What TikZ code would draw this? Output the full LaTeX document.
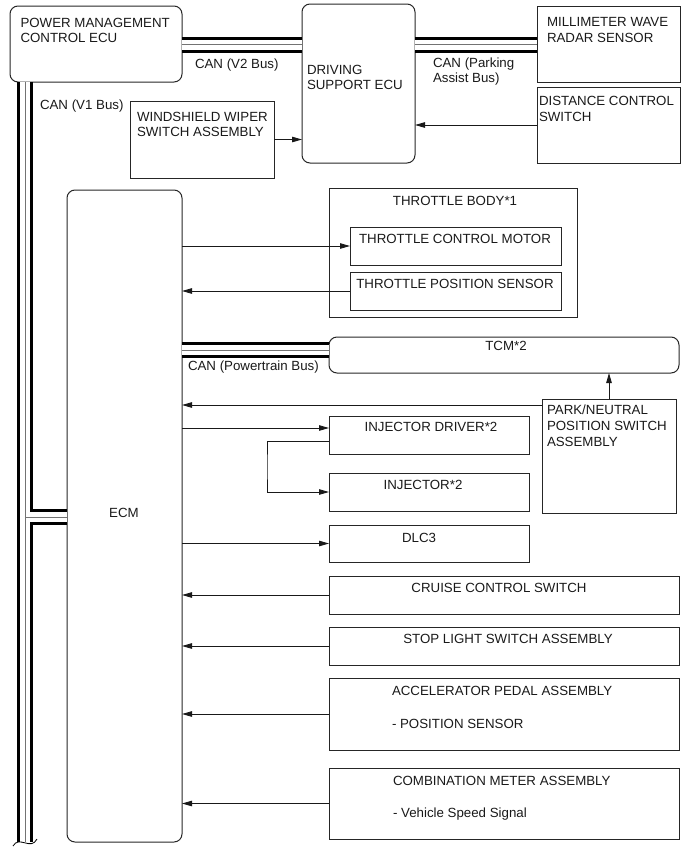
\documentclass[tikz,border=0pt]{standalone}
\usepackage{fontspec}
\setmainfont{Liberation Sans}
\usetikzlibrary{arrows.meta,calc}
\begin{document}
\begin{tikzpicture}[x=1pt,y=-1pt,
  every node/.style={inner sep=0pt,outer sep=0pt},
  box/.style={draw=black!85,line width=1pt,anchor=north west},
  rbox/.style={box,rounded corners=8pt},
  txt/.style={font=\fontsize{13.3}{16}\selectfont,text=black!90},
  tl/.style={txt,anchor=base west},
  tc/.style={txt,anchor=base},
  arr/.style={draw=black!90,line width=0.9pt,-{Triangle[length=10pt,width=5.5pt]}},
  bus/.style={draw=black,line width=3pt,double=white,double distance=10pt},
  busmid/.style={draw=black!55,line width=1pt}]
\useasboundingbox (0,0) rectangle (690,854);
% boxes
\node[rbox,minimum width=172,minimum height=76] (pmc) at (10,6) {};
\node[rbox,minimum width=113,minimum height=159] (dse) at (302,4) {};
\node[box,minimum width=143,minimum height=76] (mmw) at (537,6) {};
\node[box,minimum width=143,minimum height=76] (dcs) at (537,87) {};
\node[box,minimum width=144,minimum height=77] (wip) at (130,101) {};
\node[rbox,minimum width=115,minimum height=652] (ecm) at (67,190) {};
\node[box,minimum width=248,minimum height=129] (tb) at (329,188) {};
\node[box,minimum width=211,minimum height=38] (tcmot) at (350,227) {};
\node[box,minimum width=211,minimum height=38] (tps) at (350,272) {};
\node[rbox,minimum width=350,minimum height=36] (tcm) at (329,337) {};
\node[box,minimum width=134,minimum height=114] (pnp) at (542,399) {};
\node[box,minimum width=200,minimum height=38] (injd) at (329,416) {};
\node[box,minimum width=200,minimum height=38] (inj) at (329,473) {};
\node[box,minimum width=200,minimum height=37] (dlc) at (329,525) {};
\node[box,minimum width=350,minimum height=38] (ccs) at (329,576) {};
\node[box,minimum width=350,minimum height=38] (sls) at (329,627) {};
\node[box,minimum width=350,minimum height=72] (apa) at (329,678) {};
\node[box,minimum width=350,minimum height=71] (cma) at (329,768) {};
% texts
\node[tl] (t1) at (20.5,27) {POWER MANAGEMENT};
\node[tl] (t2) at (20.5,42) {CONTROL ECU};
\node[tl] (t3) at (195,68) {CAN (V2 Bus)};
\node[tl] (t4) at (40,109) {CAN (V1 Bus)};
\node[tl] (t5) at (137,121) {WINDSHIELD WIPER};
\node[tl] (t6) at (137,136) {SWITCH ASSEMBLY};
\node[tl] (t7) at (307,74) {DRIVING};
\node[tl] (t8) at (307,89) {SUPPORT ECU};
\node[tl] (t9) at (433,67) {CAN (Parking};
\node[tl] (t10) at (433,82) {Assist Bus)};
\node[tl] (t11) at (547,26) {MILLIMETER WAVE};
\node[tl] (t12) at (547,42) {RADAR SENSOR};
\node[tl] (t13) at (539,105) {DISTANCE CONTROL};
\node[tl] (t14) at (539,121) {SWITCH};
\node[tc] (t15) at (455,205) {THROTTLE BODY*1};
\node[tc] (t16) at (455,243) {THROTTLE CONTROL MOTOR};
\node[tc] (t17) at (455,288) {THROTTLE POSITION SENSOR};
\node[tl] (t18) at (188,370) {CAN (Powertrain Bus)};
\node[tc] (t19) at (506,350) {TCM*2};
\node[tl] (t20) at (547,414) {PARK/NEUTRAL};
\node[tl] (t21) at (547,430) {POSITION SWITCH};
\node[tl] (t22) at (547,446) {ASSEMBLY};
\node[tc] (t23) at (431,431) {INJECTOR DRIVER*2};
\node[tc] (t24) at (423,489) {INJECTOR*2};
\node[tc] (t25) at (419,542) {DLC3};
\node[tc] (t26) at (499,592) {CRUISE CONTROL SWITCH};
\node[tc] (t27) at (508,643) {STOP LIGHT SWITCH ASSEMBLY};
\node[tl] (t28) at (392,695) {ACCELERATOR PEDAL ASSEMBLY};
\node[tl] (t29) at (392,728) {- POSITION SENSOR};
\node[tl] (t30) at (393,785) {COMBINATION METER ASSEMBLY};
\node[tl] (t31) at (393,817) {- Vehicle Speed Signal};
\node[tc] (t32) at (124,517) {ECM};
% buses
\coordinate (b1) at (25,82);
\coordinate (b2) at (25,842);
\coordinate (bj) at (25,517);
\draw[bus] (b1) -- (b2) (bj) -- (ecm.west |- bj);
\draw[busmid] (b1) -- (b2) (bj) -- (ecm.west |- bj);
\draw[black,line width=0.8pt] (13,846) .. controls (19,835) and (31,851) .. (37,839);
\coordinate (v2) at (0,44.5);
\draw[bus] (pmc.east |- v2) -- (dse.west |- v2);
\draw[busmid] (pmc.east |- v2) -- (dse.west |- v2);
\draw[bus] (dse.east |- v2) -- (mmw.west |- v2);
\draw[busmid] (dse.east |- v2) -- (mmw.west |- v2);
\coordinate (pt) at (0,350);
\draw[bus] (ecm.east |- pt) -- (tcm.west |- pt);
\draw[busmid] (ecm.east |- pt) -- (tcm.west |- pt);
% arrows
\draw[arr] (dcs.west) -- (dse.east |- dcs.west);
\draw[arr] (wip.east) -- (dse.west |- wip.east);
\draw[arr] (ecm.east |- tcmot.west) -- (tcmot.west);
\draw[arr] (tps.west) -- (ecm.east |- tps.west);
\draw[arr] (pnp.north) -- (pnp.north |- tcm.south);
\coordinate (pn) at (0,405);
\draw[arr] (pnp.west |- pn) -- (ecm.east |- pn);
\coordinate (ij) at (0,428);
\draw[arr] (ecm.east |- ij) -- (injd.west |- ij);
\draw[arr] ($(injd.west)+(0,6)$) -| (267,467) |- (inj.west);
\draw[arr] (ecm.east |- dlc.west) -- (dlc.west);
\draw[arr] (ccs.west) -- (ecm.east |- ccs.west);
\draw[arr] (sls.west) -- (ecm.east |- sls.west);
\draw[arr] (apa.west) -- (ecm.east |- apa.west);
\draw[arr] (cma.west) -- (ecm.east |- cma.west);
\end{tikzpicture}
\end{document}
